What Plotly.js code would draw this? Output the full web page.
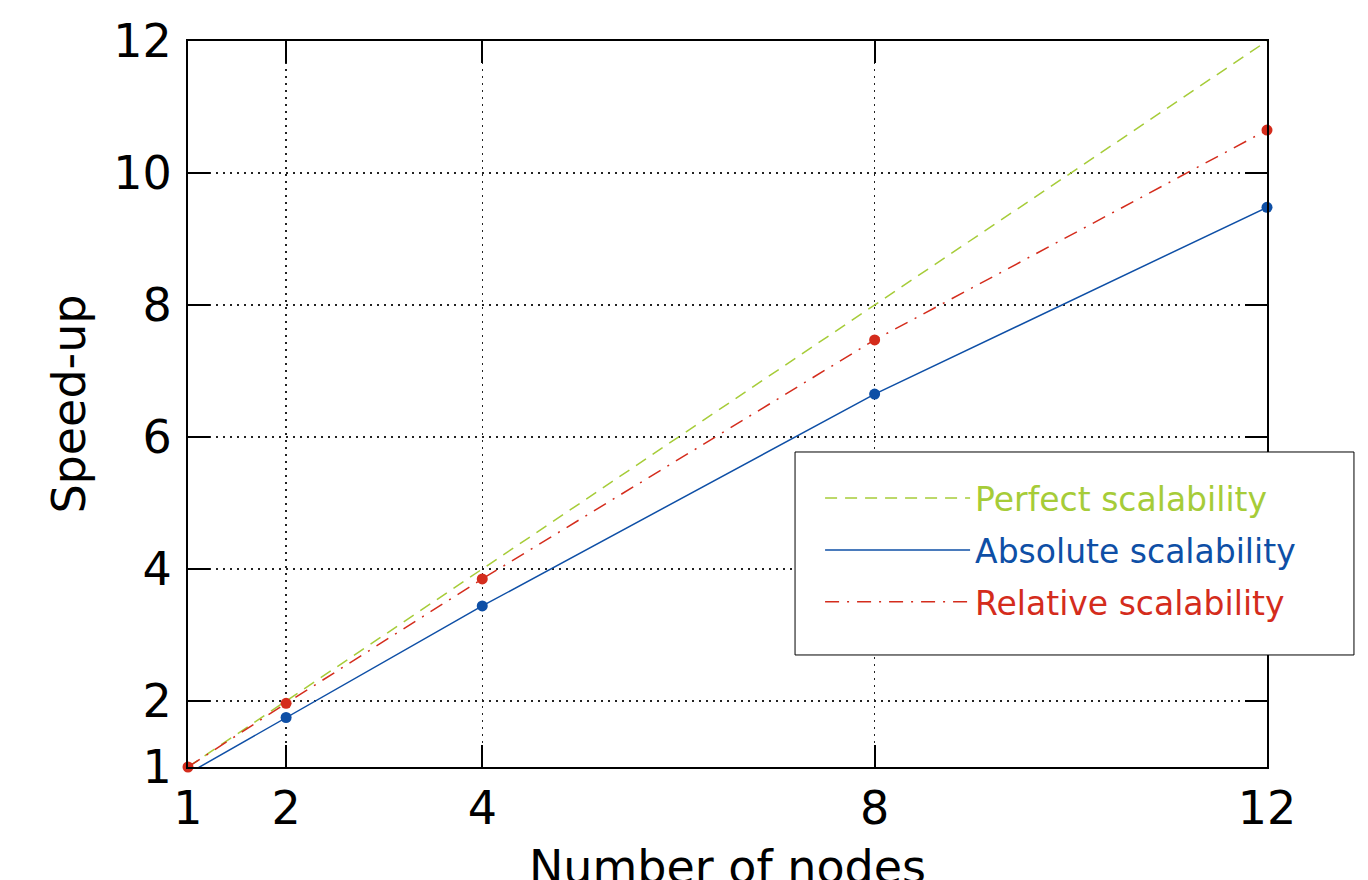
<!DOCTYPE html>
<html>
<head>
<meta charset="utf-8">
<script src="https://cdn.plot.ly/plotly-3.0.1.min.js"></script>
<style>
  html, body { margin: 0; padding: 0; background: #fff; }
  #chart { width: 1368px; height: 880px; }
</style>
</head>
<body>
<div id="chart"></div>
<script>
const nodes = [1, 2, 4, 8, 12];
const perfectSpeedup = [1, 2, 4, 8, 12];
const absoluteSpeedup = [0.9, 1.75, 3.44, 6.65, 9.48];
const relativeSpeedup = [1.0, 1.965, 3.85, 7.47, 10.65];
const seriesNames = ['Perfect scalability', 'Absolute scalability', 'Relative scalability'];
const xTicks = [1, 2, 4, 8, 12];
const yTicks = [1, 2, 4, 6, 8, 10, 12];

const GREEN = '#a6cc38';
const BLUE = '#0e4fa6';
const RED = '#d42c1c';
const FONT = 'DejaVu Sans, Verdana, sans-serif';

const traces = [
  {
    x: nodes, y: perfectSpeedup, name: seriesNames[0], mode: 'lines',
    line: { color: GREEN, width: 1.5, dash: '12px,8px' },
    legendgroup: 'a', cliponaxis: false
  },
  {
    x: nodes, y: absoluteSpeedup, name: seriesNames[1], mode: 'lines',
    line: { color: BLUE, width: 1.5 },
    legendgroup: 'b', cliponaxis: false
  },
  {
    x: nodes, y: relativeSpeedup, name: seriesNames[2], mode: 'lines',
    line: { color: RED, width: 1.5, dash: '14px,8px,2px,8px' },
    legendgroup: 'c', cliponaxis: false
  },
  {
    x: nodes, y: absoluteSpeedup, name: seriesNames[1], mode: 'markers',
    marker: { color: BLUE, size: 11 }, showlegend: false,
    legendgroup: 'b', cliponaxis: false
  },
  {
    x: nodes, y: relativeSpeedup, name: seriesNames[2], mode: 'markers',
    marker: { color: RED, size: 11 }, showlegend: false,
    legendgroup: 'c', cliponaxis: false
  }
];

const axisCommon = {
  showline: true, linecolor: '#000', linewidth: 2, mirror: 'ticks',
  ticks: 'inside', ticklen: 22, tickwidth: 2, tickcolor: '#000',
  showgrid: true, gridcolor: '#222', gridwidth: 1.5, griddash: '2px,5px',
  zeroline: false, tickfont: { family: FONT, size: 46, color: '#000' },
  tickmode: 'array'
};

const layout = {
  width: 1368, height: 880,
  margin: { l: 188, r: 101, t: 41, b: 113 },
  paper_bgcolor: '#fff', plot_bgcolor: '#fff',
  font: { family: FONT, color: '#000' },
  xaxis: Object.assign({}, axisCommon, {
    range: [1, 12], tickvals: xTicks, ticktext: xTicks.map(String),
    title: { text: 'Number of nodes', font: { family: FONT, size: 46, color: '#000' } }
  }),
  yaxis: Object.assign({}, axisCommon, {
    range: [1, 12], tickvals: yTicks, ticktext: yTicks.map(String),
    ticklabelstandoff: 5,
    title: { text: 'Speed-up', font: { family: FONT, size: 46, color: '#000' } }
  }),
  shapes: [
    {
      type: 'rect', xref: 'paper', yref: 'paper', layer: 'above',
      x0: 0.5626, x1: 1.0806, y0: 0.1543, y1: 0.4339,
      fillcolor: '#fff', line: { color: '#000', width: 1 }
    }
  ],
  showlegend: true,
  legend: {
    x: 0.5858, y: 0.409, xanchor: 'left', yanchor: 'top',
    bgcolor: 'rgba(0,0,0,0)', borderwidth: 0,
    font: { family: FONT, size: 33 },
    traceorder: 'grouped', tracegroupgap: 6,
    itemwidth: 145
  }
};

Plotly.newPlot('chart', traces, layout, { displayModeBar: false, staticPlot: true }).then(function (gd) {
  const colors = [GREEN, BLUE, RED];
  gd.querySelectorAll('.legend .legendtext').forEach(function (t, i) {
    t.style.fill = colors[i];
  });
  // push the x-axis title down so it sits partly below the page edge, as in the reference
  const xt = gd.querySelector('.g-xtitle text');
  if (xt) {
    const y0 = parseFloat(xt.getAttribute('y'));
    if (!isNaN(y0)) xt.setAttribute('y', y0 + 14);
  }
});
</script>
</body>
</html>
